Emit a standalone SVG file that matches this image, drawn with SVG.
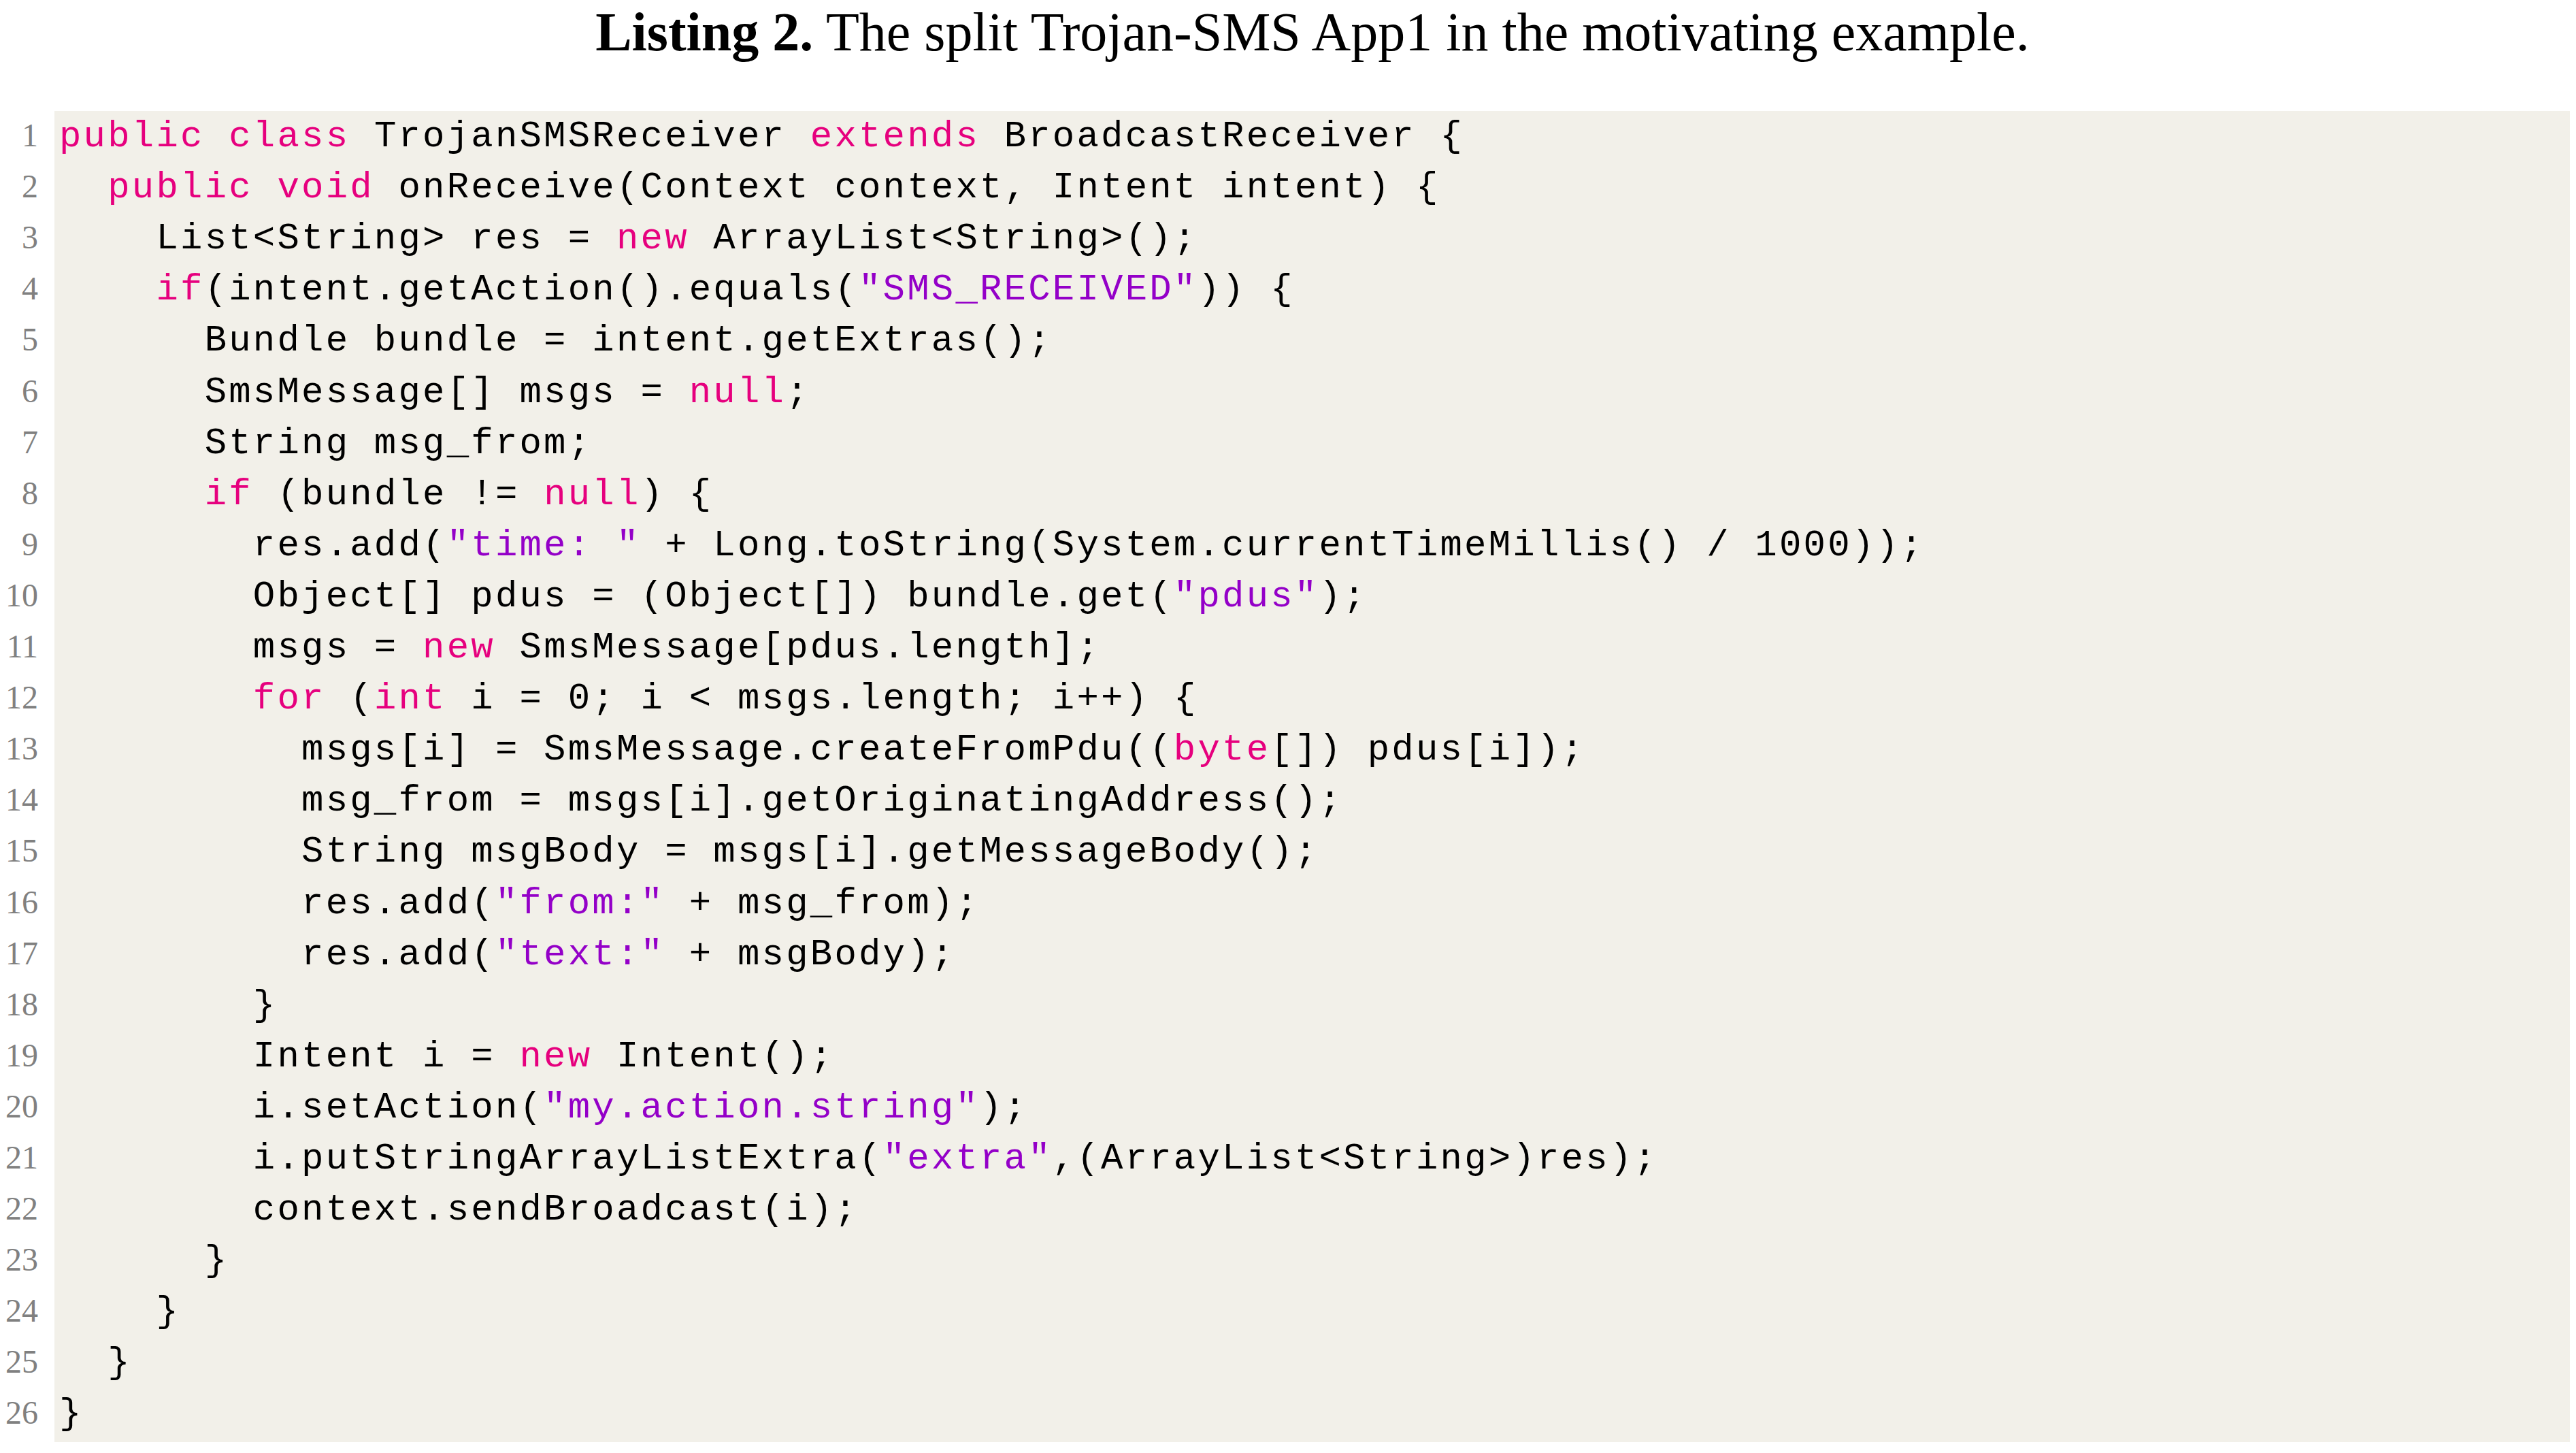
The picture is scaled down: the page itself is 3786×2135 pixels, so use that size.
<svg xmlns="http://www.w3.org/2000/svg" width="3786" height="2135" viewBox="0 0 3786 2135">
<style>
.c{font-family:"Liberation Mono",monospace;font-size:54px;letter-spacing:3.2px;fill:#000;white-space:pre}
.k{fill:#e6007e}.s{fill:#9400c8}
.n{font-family:"Liberation Serif",serif;font-size:48px;fill:#808080;text-anchor:end}
.t{font-family:"Liberation Serif",serif;font-size:80px;fill:#000}
</style>
<rect width="3786" height="2135" fill="#fff"/>
<text class="t" x="1929" y="74" text-anchor="middle"><tspan font-weight="bold">Listing 2.</tspan> The split Trojan-SMS App1 in the motivating example.</text>
<rect x="80" y="163" width="3697" height="1956" fill="#f2f0e9"/>
<g id="numbers">
<text class="n" x="56" y="215">1</text><text class="n" x="56" y="290">2</text><text class="n" x="56" y="365">3</text><text class="n" x="56" y="440">4</text><text class="n" x="56" y="515">5</text><text class="n" x="56" y="591">6</text><text class="n" x="56" y="666">7</text><text class="n" x="56" y="741">8</text><text class="n" x="56" y="816">9</text><text class="n" x="56" y="891">10</text><text class="n" x="56" y="966">11</text><text class="n" x="56" y="1041">12</text><text class="n" x="56" y="1116">13</text><text class="n" x="56" y="1191">14</text><text class="n" x="56" y="1266">15</text><text class="n" x="56" y="1342">16</text><text class="n" x="56" y="1417">17</text><text class="n" x="56" y="1492">18</text><text class="n" x="56" y="1567">19</text><text class="n" x="56" y="1642">20</text><text class="n" x="56" y="1717">21</text><text class="n" x="56" y="1792">22</text><text class="n" x="56" y="1867">23</text><text class="n" x="56" y="1942">24</text><text class="n" x="56" y="2017">25</text><text class="n" x="56" y="2092">26</text>
</g>
<g id="code" xml:space="preserve">
<text class="c" x="87" y="215"><tspan class="k">public</tspan> <tspan class="k">class</tspan> TrojanSMSReceiver <tspan class="k">extends</tspan> BroadcastReceiver {</text>
<text class="c" x="87" y="290">  <tspan class="k">public</tspan> <tspan class="k">void</tspan> onReceive(Context context, Intent intent) {</text>
<text class="c" x="87" y="365">    List&lt;String&gt; res = <tspan class="k">new</tspan> ArrayList&lt;String&gt;();</text>
<text class="c" x="87" y="440">    <tspan class="k">if</tspan>(intent.getAction().equals(<tspan class="s">"SMS_RECEIVED"</tspan>)) {</text>
<text class="c" x="87" y="515">      Bundle bundle = intent.getExtras();</text>
<text class="c" x="87" y="591">      SmsMessage[] msgs = <tspan class="k">null</tspan>;</text>
<text class="c" x="87" y="666">      String msg_from;</text>
<text class="c" x="87" y="741">      <tspan class="k">if</tspan> (bundle != <tspan class="k">null</tspan>) {</text>
<text class="c" x="87" y="816">        res.add(<tspan class="s">"time: "</tspan> + Long.toString(System.currentTimeMillis() / 1000));</text>
<text class="c" x="87" y="891">        Object[] pdus = (Object[]) bundle.get(<tspan class="s">"pdus"</tspan>);</text>
<text class="c" x="87" y="966">        msgs = <tspan class="k">new</tspan> SmsMessage[pdus.length];</text>
<text class="c" x="87" y="1041">        <tspan class="k">for</tspan> (<tspan class="k">int</tspan> i = 0; i &lt; msgs.length; i++) {</text>
<text class="c" x="87" y="1116">          msgs[i] = SmsMessage.createFromPdu((<tspan class="k">byte</tspan>[]) pdus[i]);</text>
<text class="c" x="87" y="1191">          msg_from = msgs[i].getOriginatingAddress();</text>
<text class="c" x="87" y="1266">          String msgBody = msgs[i].getMessageBody();</text>
<text class="c" x="87" y="1342">          res.add(<tspan class="s">"from:"</tspan> + msg_from);</text>
<text class="c" x="87" y="1417">          res.add(<tspan class="s">"text:"</tspan> + msgBody);</text>
<text class="c" x="87" y="1492">        }</text>
<text class="c" x="87" y="1567">        Intent i = <tspan class="k">new</tspan> Intent();</text>
<text class="c" x="87" y="1642">        i.setAction(<tspan class="s">"my.action.string"</tspan>);</text>
<text class="c" x="87" y="1717">        i.putStringArrayListExtra(<tspan class="s">"extra"</tspan>,(ArrayList&lt;String&gt;)res);</text>
<text class="c" x="87" y="1792">        context.sendBroadcast(i);</text>
<text class="c" x="87" y="1867">      }</text>
<text class="c" x="87" y="1942">    }</text>
<text class="c" x="87" y="2017">  }</text>
<text class="c" x="87" y="2092">}</text>
</g>
</svg>
